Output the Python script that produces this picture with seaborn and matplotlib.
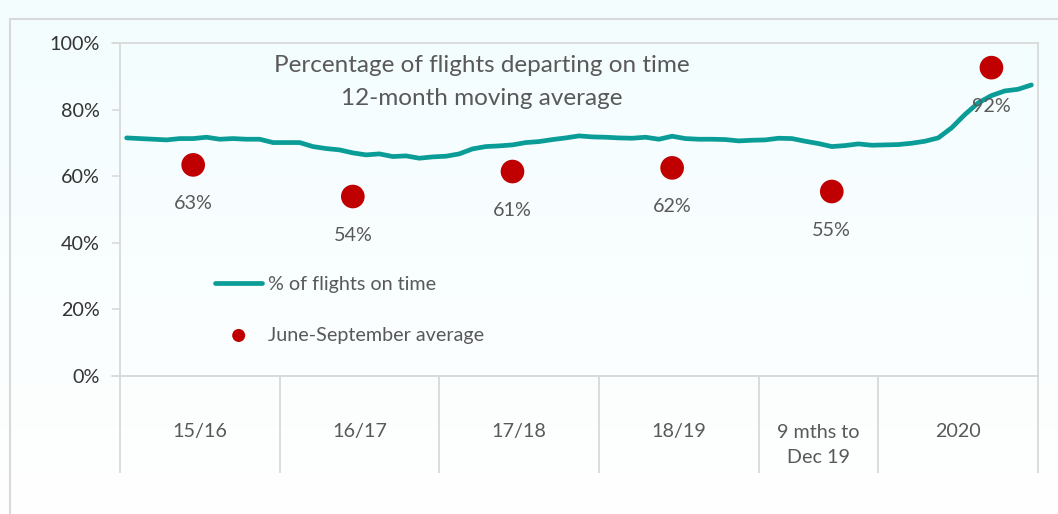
import numpy as np
import pandas as pd
import matplotlib
matplotlib.use('Agg')
from matplotlib import pyplot as plt
from matplotlib.lines import Line2D
import matplotlib.transforms as mtransforms
import seaborn as sns

# period labels and number of months in each period
periods = ['15/16', '16/17', '17/18', '18/19', '9 mths to\nDec 19', '2020']
period_months = [12, 12, 12, 12, 9, 12]

# 12-month moving average, % of flights on time (one value per month)
on_time_pct = [71.5, 71.3, 71.1, 70.9, 71.3, 71.3, 71.7, 71.1, 71.3, 71.1, 71.1, 70.1,
               70.1, 70.1, 68.9, 68.3, 67.9, 67.0, 66.4, 66.7, 65.9, 66.1, 65.4, 65.8,
               66.0, 66.7, 68.2, 68.9, 69.1, 69.4, 70.1, 70.4, 71.0, 71.5, 72.1, 71.8,
               71.7, 71.5, 71.4, 71.7, 71.1, 72.0, 71.3, 71.1, 71.1, 71.0, 70.6, 70.8,
               70.9, 71.4, 71.3, 70.5, 69.8, 68.9, 69.2, 69.7, 69.3,
               69.4, 69.5, 69.9, 70.5, 71.5, 74.5, 78.5, 82.0, 84.2, 85.6, 86.1, 87.4]

# June-September averages, placed at the month they are plotted against
summer_avg = [63.4, 53.9, 61.4, 62.5, 55.4, 92.6]
summer_labels = ['63%', '54%', '61%', '62%', '55%', '92%']
summer_month = [5, 17, 29, 41, 53, 65]

line_df = pd.DataFrame({'month': np.arange(len(on_time_pct)), 'pct': on_time_pct})
dot_df = pd.DataFrame({'month': summer_month, 'pct': summer_avg})

sns.set_style('white')
plt.rcParams['font.family'] = ['Lato', 'DejaVu Sans']

teal = '#0A9C97'
red = '#C00000'
grey_txt = '#595959'
grid_col = '#D9D9D9'
fs = 14.2

fig = plt.figure(figsize=(10.58, 5.14), dpi=100)
fig.patch.set_facecolor('white')

# soft gradient backdrop
bg = fig.add_axes([0, 0, 1, 1], zorder=-10)
grad = np.linspace(0, 1, 256).reshape(-1, 1)
bg.imshow(grad, aspect='auto', cmap=matplotlib.colors.LinearSegmentedColormap.from_list(
    'bg', ['#F3FDFE', '#FFFFFF']), extent=[0, 1, 0, 1])
bg.set_axis_off()

# outer frame lines
fig.add_artist(Line2D([10 / 1058, 1.2], [1 - 19 / 514, 1 - 19 / 514], color=grid_col, lw=1.5,
                      transform=fig.transFigure))
fig.add_artist(Line2D([10 / 1058, 10 / 1058], [-0.1, 1 - 19 / 514], color=grid_col, lw=1.5,
                      transform=fig.transFigure))

ax = fig.add_axes([120 / 1058, 1 - 376 / 514, 918 / 1058, 333 / 514])
ax.set_facecolor('none')

sns.lineplot(data=line_df, x='month', y='pct', color=teal, lw=3.4, ax=ax,
             label='% of flights on time', solid_capstyle='round')
sns.scatterplot(data=dot_df, x='month', y='pct', color=red, s=290, edgecolor='none',
                ax=ax, label='June-September average', zorder=5)

for m, v, lab in zip(summer_month, summer_avg, summer_labels):
    ax.annotate(lab, (m, v), xytext=(0, -28), textcoords='offset points',
                ha='center', va='center', fontsize=fs, color=grey_txt, zorder=6)

total = sum(period_months)
ax.set_xlim(-0.5, total - 0.5)
ax.set_ylim(0, 100)
ax.set_yticks([0, 20, 40, 60, 80, 100])
ax.set_yticklabels(['0%', '20%', '40%', '60%', '80%', '100%'])
ax.set_xticks([])
ax.set_xlabel('')
ax.set_ylabel('')
ax.tick_params(axis='y', length=5.5, width=1.2, color=grid_col, pad=9,
               labelsize=fs, labelcolor='#333333', left=True)
for s in ax.spines.values():
    s.set_color(grid_col)
    s.set_linewidth(1.3)

# period dividers and labels below the axis
trans = mtransforms.blended_transform_factory(ax.transData, ax.transAxes)
edges = np.concatenate([[0], np.cumsum(period_months)]) - 0.5
ax.vlines(edges, -0.29, 0, transform=trans, colors=grid_col, lw=1.3, clip_on=False)
ax.plot([-0.0085, 1], [0, 0], transform=ax.transAxes, color=grid_col, lw=1.3, clip_on=False)
ax.plot([-0.0085, 0], [1, 1], transform=ax.transAxes, color=grid_col, lw=1.3, clip_on=False)
for i, p in enumerate(periods):
    c = (edges[i] + edges[i + 1]) / 2
    if '\n' in p:
        ax.text(c, -0.207, p, transform=trans, ha='center', va='center',
                fontsize=fs, color=grey_txt, linespacing=1.6)
    else:
        ax.text(c, -0.168, p, transform=trans, ha='center', va='center',
                fontsize=fs, color=grey_txt)

ax.text(0.394, 0.931, 'Percentage of flights departing on time', transform=ax.transAxes,
        ha='center', va='center', fontsize=17.5, color=grey_txt)
ax.text(0.394, 0.832, '12-month moving average', transform=ax.transAxes,
        ha='center', va='center', fontsize=17.5, color=grey_txt)

leg = ax.legend(loc='upper left', bbox_to_anchor=(0.1035, 0.300), frameon=False,
                fontsize=fs, labelcolor=grey_txt, borderaxespad=0, borderpad=0,
                handlelength=2.4, handletextpad=0.3, labelspacing=1.7, markerscale=0.55)

fig.savefig('out.png', dpi=100)
